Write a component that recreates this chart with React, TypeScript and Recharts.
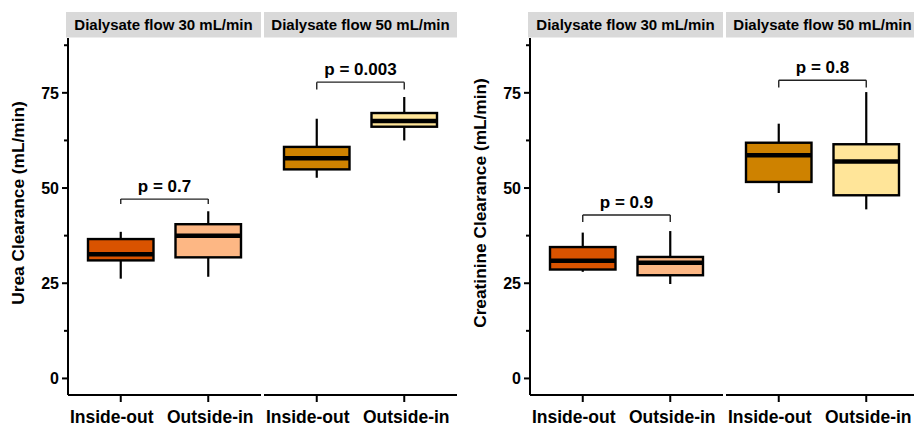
import { ComposedChart, Bar, XAxis, YAxis, ReferenceLine } from "recharts";

const CATEGORIES = ["Inside-out", "Outside-in"];
const FLOWS = ["Dialysate flow 30 mL/min", "Dialysate flow 50 mL/min"];
const FILLS_30 = ["#D95300", "#FDB784"];
const FILLS_50 = ["#CE8200", "#FFE599"];

// box stats per category: [min, q1, median, q3, max]
const UREA_30 = [
  [26.2, 31.0, 32.6, 36.6, 38.5],
  [26.7, 31.8, 37.5, 40.5, 43.9],
];
const UREA_50 = [
  [52.7, 54.9, 57.8, 60.8, 68.2],
  [62.5, 66.1, 67.6, 69.7, 73.9],
];
const CREAT_30 = [
  [28.0, 28.6, 30.9, 34.5, 38.3],
  [24.8, 27.1, 30.4, 31.9, 38.7],
];
const CREAT_50 = [
  [48.7, 51.6, 58.6, 61.9, 66.9],
  [44.4, 48.1, 57.0, 61.5, 75.2],
];

const UREA_P = ["p = 0.7", "p = 0.003"];
const UREA_BRACKET = [47.1, 77.8];
const UREA_LEG = [45.8, 75.9];
const CREAT_P = ["p = 0.9", "p = 0.8"];
const CREAT_BRACKET = [42.9, 78.3];
const CREAT_LEG = [41.1, 76.4];

const Y_TICKS = [0, 12.5, 25, 37.5, 50, 62.5, 75, 87.5];
const Y_DOMAIN = [-4.35, 89.4];

const FONT = "'Liberation Sans', Arial, Helvetica, sans-serif";
const H = 427;
const PLOT_TOP = 38;
const PLOT_BOTTOM = 395;
const YW = 68;
const FW = 193;
const GAP = 3;

const BoxShape = (props: any) => {
  const { x, y, width, height, payload } = props;
  const [lo, q1, med, q3, hi] = payload.stats;
  const py = (v: number) => y + ((hi - v) / (hi - lo)) * height;
  const cx = x + width / 2;
  return (
    <g>
      <line x1={cx} x2={cx} y1={py(hi)} y2={py(q3)} stroke="#000" strokeWidth={2.2} />
      <line x1={cx} x2={cx} y1={py(q1)} y2={py(lo)} stroke="#000" strokeWidth={2.2} />
      <rect
        x={x}
        y={py(q3)}
        width={width}
        height={py(q1) - py(q3)}
        fill={payload.fill}
        stroke="#000"
        strokeWidth={2.4}
      />
      <line x1={x} x2={x + width} y1={py(med)} y2={py(med)} stroke="#000" strokeWidth={4.5} />
    </g>
  );
};

const XTick = (props: any) => {
  const { x, y, payload, index } = props;
  return (
    <text
      x={x + (index === 0 ? -9 : 2)}
      y={y}
      dy="0.71em"
      textAnchor="middle"
      fontFamily={FONT}
      fontSize={17.5}
      fontWeight={700}
      fill="#000"
    >
      {payload.value}
    </text>
  );
};

const YTick = (props: any) => {
  const { x, y, payload } = props;
  const major = payload.value % 25 === 0;
  const axisX = x + 3 + 6;
  return (
    <g>
      <line x1={axisX - (major ? 6 : 4)} x2={axisX} y1={y} y2={y} stroke="#000" strokeWidth={2} />
      {major && (
        <text
          x={x}
          y={y}
          dy="0.355em"
          textAnchor="end"
          fontFamily={FONT}
          fontSize={16}
          fontWeight={700}
          fill="#000"
        >
          {payload.value}
        </text>
      )}
    </g>
  );
};

function Facet({
  rows,
  fills,
  pLabel,
  bracketY,
  legY,
  withAxis,
}: {
  rows: number[][];
  fills: string[];
  pLabel: string;
  bracketY: number;
  legY: number;
  withAxis: boolean;
}) {
  const data = CATEGORIES.map((cat, i) => ({
    cat,
    range: [rows[i][0], rows[i][4]],
    stats: rows[i],
    fill: fills[i],
  }));
  const lineProps = { stroke: "#222", strokeWidth: 1.4 };
  return (
    <ComposedChart
      width={withAxis ? YW + FW : FW}
      height={H}
      data={data}
      margin={{ top: PLOT_TOP, right: 0, bottom: 0, left: 0 }}
    >
      <XAxis
        dataKey="cat"
        interval={0}
        padding={{ left: 9, right: 9 }}
        height={H - PLOT_BOTTOM}
        tickSize={7}
        tickMargin={9}
        axisLine={{ stroke: "#000", strokeWidth: 2 }}
        tickLine={{ stroke: "#000", strokeWidth: 2 }}
        tick={<XTick />}
      />
      <YAxis
        type="number"
        hide={!withAxis}
        width={YW}
        domain={Y_DOMAIN}
        ticks={Y_TICKS}
        allowDataOverflow
        interval={0}
        tickSize={6}
        tickMargin={3}
        axisLine={{ stroke: "#000", strokeWidth: 2 }}
        tickLine={false}
        tick={<YTick />}
      />
      <Bar dataKey="range" barSize={65.5} shape={BoxShape} isAnimationActive={false} />
      <ReferenceLine
        segment={[
          { x: CATEGORIES[0], y: bracketY },
          { x: CATEGORIES[1], y: bracketY },
        ]}
        {...lineProps}
        label={{
          value: pLabel,
          position: "top",
          offset: 7,
          fontSize: 17,
          fontWeight: 700,
          fontFamily: FONT,
          fill: "#000",
        }}
      />
      <ReferenceLine
        segment={[
          { x: CATEGORIES[0], y: bracketY },
          { x: CATEGORIES[0], y: legY },
        ]}
        {...lineProps}
      />
      <ReferenceLine
        segment={[
          { x: CATEGORIES[1], y: bracketY },
          { x: CATEGORIES[1], y: legY },
        ]}
        {...lineProps}
      />
    </ComposedChart>
  );
}

function Panel({
  left,
  title,
  rows30,
  rows50,
  pLabels,
  brackets,
  legs,
}: {
  left: number;
  title: string;
  rows30: number[][];
  rows50: number[][];
  pLabels: string[];
  brackets: number[];
  legs: number[];
}) {
  const axisX = left + YW;
  const f2 = axisX + FW + GAP;
  return (
    <>
      <div style={{ position: "absolute", left, top: 0 }}>
        <Facet rows={rows30} fills={FILLS_30} pLabel={pLabels[0]} bracketY={brackets[0]} legY={legs[0]} withAxis />
      </div>
      <div style={{ position: "absolute", left: f2, top: 0 }}>
        <Facet rows={rows50} fills={FILLS_50} pLabel={pLabels[1]} bracketY={brackets[1]} legY={legs[1]} withAxis={false} />
      </div>
      <svg
        width={914}
        height={H}
        style={{ position: "absolute", left: 0, top: 0, pointerEvents: "none" }}
      >
        {[axisX - 2, f2].map((sx, i) => (
          <g key={i}>
            <rect x={sx} y={12} width={i === 0 ? FW + 2 : FW} height={25.5} fill="#D9D9D9" />
            <text
              x={sx + (i === 0 ? FW + 2 : FW) / 2}
              y={30}
              textAnchor="middle"
              fontFamily={FONT}
              fontSize={15}
              fontWeight={700}
              fill="#000"
            >
              {FLOWS[i]}
            </text>
          </g>
        ))}
        <text
          transform={`translate(${axisX - 50.5},203) rotate(-90)`}
          textAnchor="middle"
          dominantBaseline="central"
          fontFamily={FONT}
          fontSize={17.3}
          fontWeight={700}
          fill="#000"
        >
          {title}
        </text>
      </svg>
    </>
  );
}

export default function App() {
  return (
    <div
      style={{
        position: "absolute",
        left: 0,
        top: 0,
        width: 914,
        height: H,
        overflow: "hidden",
        background: "#fff",
      }}
    >
      <Panel
        left={0}
        title="Urea Clearance (mL/min)"
        rows30={UREA_30}
        rows50={UREA_50}
        pLabels={UREA_P}
        brackets={UREA_BRACKET}
        legs={UREA_LEG}
      />
      <Panel
        left={462}
        title="Creatinine Clearance (mL/min)"
        rows30={CREAT_30}
        rows50={CREAT_50}
        pLabels={CREAT_P}
        brackets={CREAT_BRACKET}
        legs={CREAT_LEG}
      />
    </div>
  );
}
